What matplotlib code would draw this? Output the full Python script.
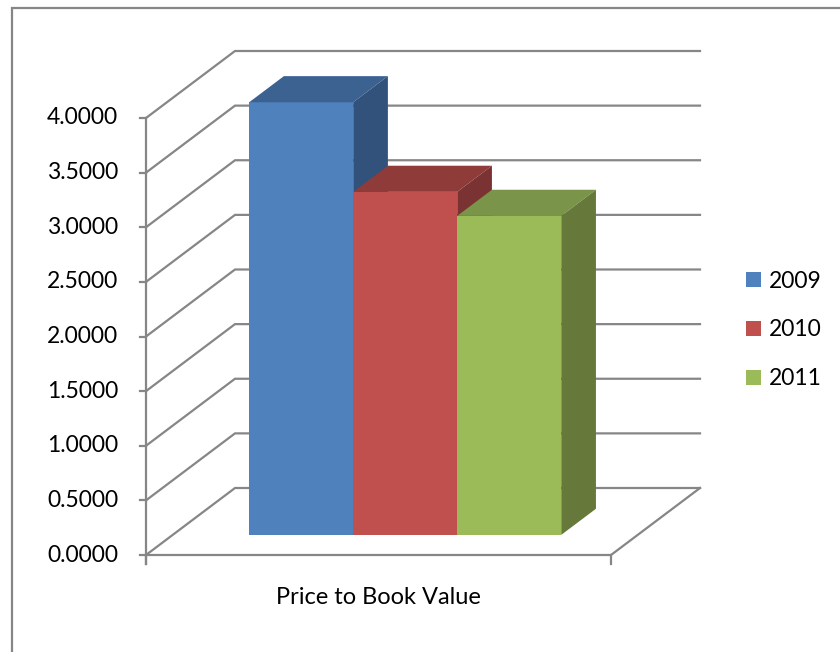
import matplotlib
matplotlib.use("Agg")
import matplotlib.pyplot as plt
from matplotlib.patches import Polygon, Patch, Rectangle

# data
category = "Price to Book Value"
years = ["2009", "2010", "2011"]
values = [3.96, 3.14, 2.92]
ticks = [0.0, 0.5, 1.0, 1.5, 2.0, 2.5, 3.0, 3.5, 4.0]

front_cols = ["#4F81BD", "#C0504D", "#9BBB59"]
top_cols = ["#3C6291", "#8F3B3A", "#7A9449"]
side_cols = ["#32527B", "#7A3232", "#66783A"]
grid_col = "#868686"

plt.rcParams['font.family'] = ['Lato', 'DejaVu Sans']

W, H = 840, 652
fig = plt.figure(figsize=(W / 100, H / 100), dpi=100)
ax = fig.add_axes([0, 0, 1, 1])
ax.axis('off')

# front plane: x 0..1 -> px 146..611, y 0 -> px 555 (from top), 109.25 px per unit
x0, xs = 146, 465.0
y0, ys = 555, 109.25
ax.set_xlim(-x0 / xs, (W - x0) / xs)
ax.set_ylim(-(H - y0) / ys, y0 / ys)

# oblique depth offset (depth 0 = front, 1 = back wall)
DX = 89 / xs
DY = 67 / ys

def p(x, y, d):
    return (x + d * DX, y + d * DY)

lw = 1.6
# chart border
fig.add_artist(Rectangle((12 / W, -0.1), 1.2, (H - 8) / H + 0.1,
                         transform=fig.transFigure, fill=False,
                         edgecolor=grid_col, lw=lw))

# gridlines on side + back walls
for v in ticks:
    xa, ya = p(0, v, 0)
    xb, yb = p(0, v, 1)
    xc, yc = p(1, v, 1)
    ax.plot([xa, xb, xc], [ya, yb, yc], color=grid_col, lw=lw, zorder=1,
            solid_joinstyle='miter')
# floor front and right edge
ax.plot([0, 1, 1 + DX], [0, 0, DY], color=grid_col, lw=lw, zorder=1)

# value axis
ax.plot([0, 0], [-9 / ys, ticks[-1]], color=grid_col, lw=lw, zorder=2)
for v in ticks:
    ax.plot([-6 / xs, 0], [v, v], color=grid_col, lw=lw, zorder=2)
    ax.text(-28 / xs, v, f"{v:.4f}", ha='right', va='center', fontsize=16.5)
# category ticks
for x in [0, 1]:
    ax.plot([x, x], [0, -9 / ys], color=grid_col, lw=lw, zorder=2)
ax.text(0.5, -43 / ys, category, ha='center', va='center', fontsize=17)

# 3d columns
n = len(values)
w = 0.2237
left0 = 0.5 - n * w / 2
d1, d2 = 0.30, 0.69
for i, (v, fc, tc, sc) in enumerate(zip(values, front_cols, top_cols, side_cols)):
    xl = left0 + i * w
    xr = xl + w
    ax.bar(xl + d1 * DX, v, width=w, bottom=d1 * DY, align='edge',
           color=fc, zorder=3 + i)
    top = [p(xl, v, d1), p(xr, v, d1), p(xr, v, d2), p(xl, v, d2)]
    side = [p(xr, 0, d1), p(xr, v, d1), p(xr, v, d2), p(xr, 0, d2)]
    ax.add_patch(Polygon(top, closed=True, facecolor=tc, edgecolor='none', zorder=3 + i))
    ax.add_patch(Polygon(side, closed=True, facecolor=sc, edgecolor='none', zorder=3 + i))

handles = [Patch(facecolor=c, edgecolor='none') for c in front_cols]
fig.legend(handles, years, loc='center left', bbox_to_anchor=(746 / W, (H - 330) / H),
           frameon=False, fontsize=16.5, handlelength=0.66, handleheight=0.66,
           handletextpad=0.32, labelspacing=1.22, borderpad=0, borderaxespad=0)

fig.savefig("out.png", dpi=100)
